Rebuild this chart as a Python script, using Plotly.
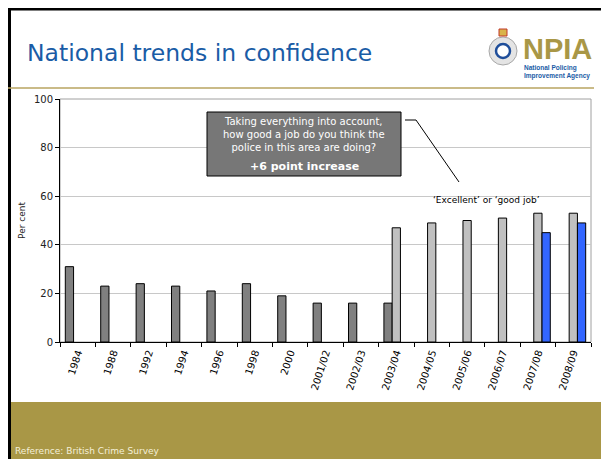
import plotly.graph_objects as go

categories = ["1984", "1988", "1992", "1994", "1996", "1998", "2000", "2001/02",
              "2002/03", "2003/04", "2004/05", "2005/06", "2006/07", "2007/08", "2008/09"]
old_measure = [31, 23, 24, 23, 21, 24, 19, 16, 16, 16, None, None, None, None, None]
excellent_good = [None, None, None, None, None, None, None, None, None, 47, 49, 50, 51, 53, 53]
new_measure = [None, None, None, None, None, None, None, None, None, None, None, None, None, 45, 49]
y_ticks = [0, 20, 40, 60, 80, 100]

# page body has an 8px default margin; work in window pixels and shift
O = 8
W, H = 609 - O, 459 - O
L, R, T, B = 60, 591, 99, 342


def px(x):
    return (x - L) / (R - L)


def py(y):
    return (B - y) / (B - T)


fig = go.Figure()
for vals, col in [(old_measure, "#808080"), (excellent_good, "#c0c0c0"), (new_measure, "#3366ff")]:
    fig.add_trace(go.Bar(x=categories, y=vals, marker=dict(color=col, line=dict(color="#000000", width=1)),
                         showlegend=False, hoverinfo="skip"))

shapes = []
# slide border top/left (drawn at the figure's own edge)
shapes.append(dict(type="rect", xref="paper", yref="paper", x0=px(O), x1=px(620), y0=py(O), y1=py(O + 2.5),
                   fillcolor="#000000", line=dict(width=0), layer="above"))
shapes.append(dict(type="rect", xref="paper", yref="paper", x0=px(O), x1=px(O + 3), y0=py(O), y1=py(470),
                   fillcolor="#000000", line=dict(width=0), layer="above"))
# title underline
shapes.append(dict(type="line", xref="paper", yref="paper", x0=px(5), x1=px(594), y0=py(88), y1=py(88),
                   line=dict(color="#b8a560", width=1.5)))
# footer band
shapes.append(dict(type="rect", xref="paper", yref="paper", x0=px(5), x1=px(620), y0=py(402), y1=py(470),
                   fillcolor="#a99746", line=dict(width=0), layer="below"))
# plot border
shapes.append(dict(type="rect", xref="paper", yref="paper", x0=0, x1=1, y0=0, y1=1,
                   line=dict(color="#a0a0a0", width=1), layer="below"))
# question box
shapes.append(dict(type="rect", xref="paper", yref="paper", x0=px(207), x1=px(401), y0=py(112), y1=py(176),
                   fillcolor="#777777", line=dict(color="#000000", width=1), layer="above"))
# leader line
shapes.append(dict(type="path", xref="paper", yref="paper",
                   path=f"M {px(405)} {py(120)} L {px(416)} {py(120)} L {px(459)} {py(182)}",
                   line=dict(color="#000000", width=1), layer="above"))
# logo badge
shapes.append(dict(type="circle", xref="paper", yref="paper", x0=px(489), x1=px(517), y0=py(37), y1=py(65),
                   fillcolor="#e4e4e4", line=dict(color="#a8a8a8", width=1)))
shapes.append(dict(type="circle", xref="paper", yref="paper", x0=px(496), x1=px(510), y0=py(44), y1=py(58),
                   fillcolor="#ffffff", line=dict(color="#1f4e9a", width=2.5)))
shapes.append(dict(type="rect", xref="paper", yref="paper", x0=px(499), x1=px(507), y0=py(29), y1=py(36),
                   fillcolor="#d9b44a", line=dict(color="#c0392b", width=1)))

annotations = []
F = "DejaVu Sans, Verdana, sans-serif"
annotations.append(dict(text="National trends in confidence", xref="paper", yref="paper",
                        x=px(25), y=py(53), xanchor="left", yanchor="middle", showarrow=False,
                        font=dict(family=F, size=23.5, color="#1a5ca6")))
annotations.append(dict(text="<b>NPIA</b>", xref="paper", yref="paper",
                        x=px(521), y=py(49), xanchor="left", yanchor="middle", showarrow=False,
                        font=dict(family="Liberation Sans, Arial, sans-serif", size=29, color="#a99746")))
annotations.append(dict(text="<b>National Policing<br>Improvement Agency</b>", xref="paper", yref="paper",
                        x=px(522), y=py(72), xanchor="left", yanchor="middle", showarrow=False, align="left",
                        font=dict(family="Liberation Sans, Arial, sans-serif", size=6.5, color="#1a5ca6")))
annotations.append(dict(text="Taking everything into account,<br>how good a job do you think the<br>police in this area are doing?",
                        xref="paper", yref="paper", x=px(304), y=py(134), xanchor="center", yanchor="middle",
                        showarrow=False, align="center",
                        font=dict(family=F, size=10, color="#ffffff")))
annotations.append(dict(text="<b>+6 point increase</b>", xref="paper", yref="paper", x=px(304), y=py(166),
                        xanchor="center", yanchor="middle", showarrow=False,
                        font=dict(family=F, size=11, color="#ffffff")))
annotations.append(dict(text="\u2018Excellent\u2019 or \u2018good job\u2019", xref="paper", yref="paper",
                        x=px(486), y=py(200), xanchor="center", yanchor="middle", showarrow=False,
                        font=dict(family=F, size=9, color="#000000")))
annotations.append(dict(text="Reference: British Crime Survey", xref="paper", yref="paper",
                        x=px(13), y=py(451), xanchor="left", yanchor="middle", showarrow=False,
                        font=dict(family=F, size=9, color="#f4efd8")))

fig.update_layout(
    width=W, height=H,
    margin=dict(l=L - O, r=W - (R - O), t=T - O, b=H - (B - O), autoexpand=False),
    paper_bgcolor="#ffffff", plot_bgcolor="#ffffff",
    barmode="group", bargap=0.3, bargroupgap=0,
    shapes=shapes, annotations=annotations,
    font=dict(family=F, size=10, color="#222222"),
    xaxis=dict(type="category", tickangle=-72, tickson="boundaries", ticks="outside", ticklen=4,
               tickcolor="#000000", showline=True, linecolor="#000000", linewidth=1,
               showgrid=False, tickfont=dict(size=10, color="#000000", family=F), automargin=False),
    yaxis=dict(range=[0, 100], tickvals=y_ticks, ticks="outside", ticklen=4, tickcolor="#000000",
               showline=True, linecolor="#000000", linewidth=1, showgrid=True, gridcolor="#c8c8c8",
               zeroline=False, tickfont=dict(size=10, color="#222222", family=F), automargin=False,
               title=dict(text="Per cent", font=dict(size=9, family=F, color="#222222"), standoff=6)),
)

fig.write_html("out.html")
